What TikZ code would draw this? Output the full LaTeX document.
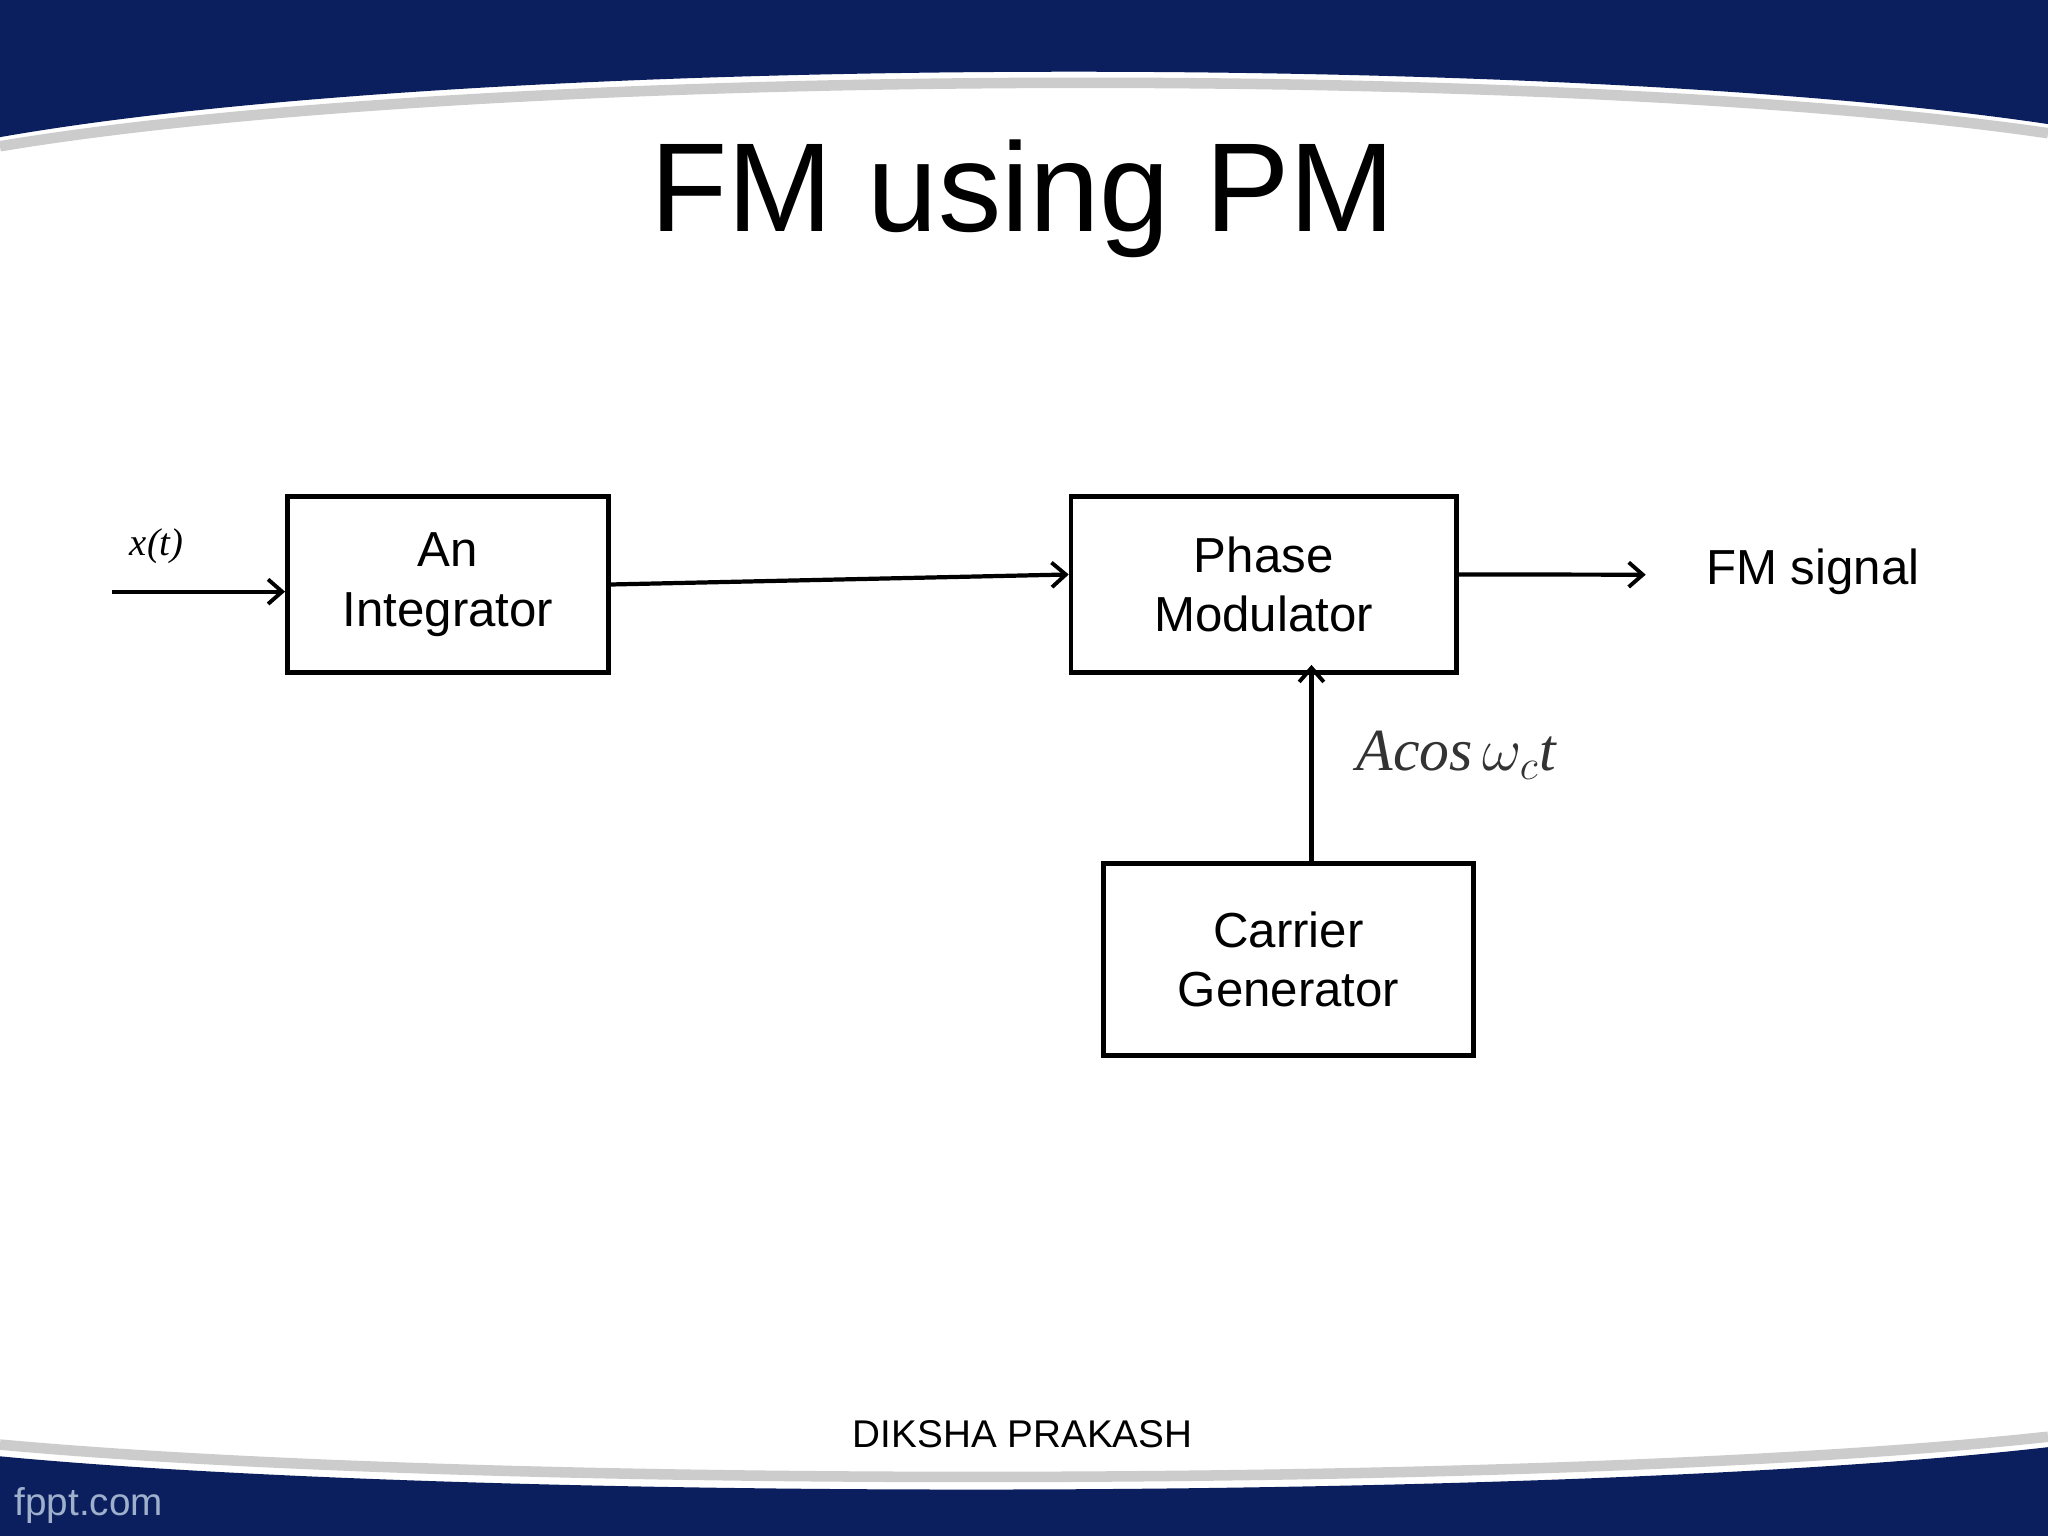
\documentclass[tikz,border=0pt]{standalone}
\usepackage{fontspec}
\setmainfont{Liberation Sans}
\newfontfamily\serifit{Liberation Serif}
\usetikzlibrary{arrows.meta}
\definecolor{navy}{HTML}{0B1F5E}
\definecolor{fppt}{HTML}{9FB0CC}
\begin{document}
\begin{tikzpicture}[x=0.013061cm,y=-0.013061cm,
  blk/.style={draw,line width=1.3pt,align=center,inner sep=0pt,font=\fontsize{14pt}{17pt}\selectfont},
  arr/.style={line width=1.2pt,-{Straight Barb[length=4pt,width=7pt,line width=1.1pt]}}]
\useasboundingbox (0,0) rectangle (1568,1176);
\fill[white] (0,0) rectangle (1568,1176);
% top banner
\fill[navy] (0,0) -- (1568,0) -- (1568,95) .. controls (1200,40) and (370,40) .. (0,105) -- cycle;
\draw[gray!40,line width=3pt] (0,112) .. controls (370,50) and (1200,48) .. (1568,102);
% bottom banner
\fill[navy] (0,1176) -- (1568,1176) -- (1568,1108) .. controls (1200,1150) and (370,1150) .. (0,1115) -- cycle;
\draw[gray!40,line width=3pt] (0,1106) .. controls (370,1140) and (1200,1140) .. (1568,1100);
\node[font=\fontsize{36pt}{44pt}\selectfont] (title) at (783,152) {FM using PM};
\node[blk,minimum width=3.213cm,minimum height=1.763cm] (int) at (343,447.5) {An\\Integrator};
\node[blk,minimum width=3.853cm,minimum height=1.763cm] (pm) at (967.5,447.5) {Phase\\Modulator};
\node[blk,minimum width=3.696cm,minimum height=1.920cm] (cg) at (986.5,734.5) {Carrier\\Generator};
\coordinate (in) at (86,453);
\coordinate (out) at (1260,440);
\coordinate (cgx) at ([xshift=2.3mm]cg.north);
\draw[arr] (in) -- (in -| int.west);
\draw[arr] (int.east) -- ([yshift=1mm]pm.west);
\draw[arr] ([yshift=1mm]pm.east) -- (out);
\draw[arr] (cgx) -- ([yshift=1mm]cgx |- pm.south);
\node[font=\fontsize{14pt}{17pt}\selectfont] (fm) at (1388,438) {FM signal};
\node[font=\serifit\fontsize{11pt}{13pt}\selectfont] (xt) at (120,418) {\itshape x(t)};
\node[font=\serifit\fontsize{17pt}{20pt}\selectfont,text=black!80] (ac) at (1115,578) {\itshape Acos\,$\omega_{c}$t};
\node[font=\fontsize{11pt}{13pt}\selectfont] (auth) at (783,1098) {DIKSHA PRAKASH};
\node[font=\fontsize{11pt}{13pt}\selectfont,text=fppt] (f) at (68,1153) {fppt.com};
\end{tikzpicture}
\end{document}
